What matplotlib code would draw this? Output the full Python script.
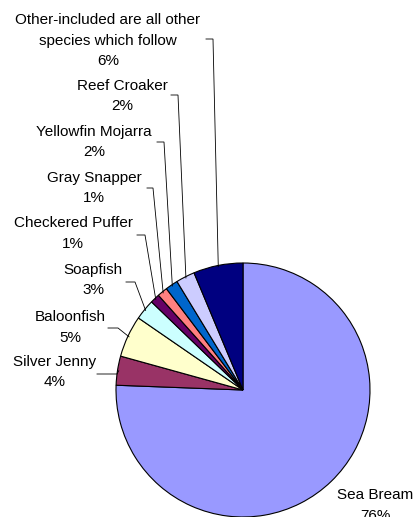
import numpy as np
import matplotlib
matplotlib.use("Agg")
import matplotlib.pyplot as plt

plt.rcParams['font.family'] = ['Liberation Sans', 'DejaVu Sans']

# share of catch, clockwise from 12 o'clock
species = ["Sea Bream", "Silver Jenny", "Baloonfish", "Soapfish",
           "Checkered Puffer", "Gray Snapper", "Yellowfin Mojarra",
           "Reef Croaker", "Other-included are all other\nspecies which follow"]
share = [75.6, 3.7, 5.3, 2.6, 1.2, 1.3, 1.6, 2.4, 6.3]
pct_labels = ["76%", "4%", "5%", "3%", "1%", "1%", "2%", "2%", "6%"]
colors = ["#9999FF", "#993366", "#FFFFCC", "#CCFFFF", "#660066",
          "#FF8080", "#0066CC", "#CCCCFF", "#000080"]

W, H = 416, 517


def Y(py):
    # pixel row (from top) -> data y
    return H - py


fig = plt.figure(figsize=(W / 100, H / 100), dpi=100)
ax = fig.add_axes([0, 0, 1, 1])

R = 127
cx, cy = 243, Y(390)
wedges, _ = ax.pie(share, colors=colors, startangle=90, counterclock=False,
                   radius=R, center=(cx, cy),
                   wedgeprops=dict(edgecolor="black", linewidth=0.8))

ax.set_xlim(0, W)
ax.set_ylim(0, H)
ax.set_aspect("equal")
ax.axis("off")

# label layout: text centre (x, top-line y) and leader hook (x0, x1, y) in pixels
label_pos = [(375, 495), (55, 362), (70, 317), (93, 270), (73, 223),
             (94, 178), (94, 132), (122, 86), (108, 20)]
hooks = [None, (97, 117, 374), (108, 118, 328), (126, 135, 282),
         (137, 145, 235), (147, 153, 188), (157, 164, 142),
         (171, 178, 95), (206, 213, 39)]

for i, (name, pct) in enumerate(zip(species, pct_labels)):
    tx, ty = label_pos[i]
    lines = name.split("\n") + [pct]
    for k, line in enumerate(lines):
        ax.text(tx, Y(ty + 20.5 * k), line, ha="center", va="center",
                fontsize=11, color="black")
    if hooks[i] is not None:
        x0, x1, hy = hooks[i]
        w = wedges[i]
        mid = np.radians((w.theta1 + w.theta2) / 2)
        ex = cx + R * 0.99 * np.cos(mid)
        ey = cy + R * 0.99 * np.sin(mid)
        ax.plot([x0, x1, ex], [Y(hy), Y(hy), ey], color="black", lw=0.6,
                solid_joinstyle="miter")

fig.savefig("out.png", dpi=100)
